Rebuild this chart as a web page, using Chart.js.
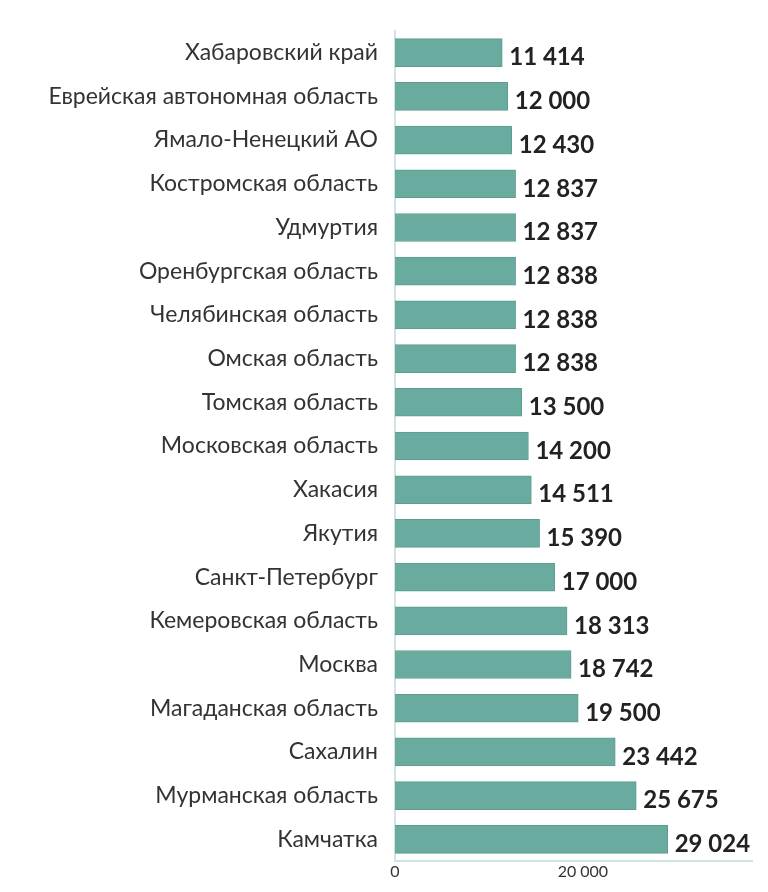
<!DOCTYPE html>
<html><head><meta charset="utf-8">
<script src="https://cdn.jsdelivr.net/npm/chart.js@4"></script>
<style>html,body{margin:0;padding:0;background:#fff}#w{width:768px;height:892px}</style>
</head><body><div id="w"><canvas id="c"></canvas></div>
<script>
const categories=["Хабаровский край","Еврейская автономная область","Ямало-Ненецкий АО","Костромская область","Удмуртия","Оренбургская область","Челябинская область","Омская область","Томская область","Московская область","Хакасия","Якутия","Санкт-Петербург","Кемеровская область","Москва","Магаданская область","Сахалин","Мурманская область","Камчатка"];
const values=[11414,12000,12430,12837,12837,12838,12838,12838,13500,14200,14511,15390,17000,18313,18742,19500,23442,25675,29024];
const tickValues=[0,20000];
const fmt=v=>String(v).replace(/\B(?=(\d{3})+(?!\d))/g,' ');
const valueLabels={id:'vl',afterDatasetsDraw(ch){const ctx=ch.ctx;const m=ch.getDatasetMeta(0);ctx.save();ctx.font='bold 24px Lato';ctx.fillStyle='#222';ctx.textBaseline='middle';m.data.forEach((b,i)=>{ctx.fillText(fmt(values[i]),b.x+7,b.y+5);});ctx.restore();}};
new Chart(document.getElementById('c'),{type:'bar',data:{labels:categories,datasets:[{data:values,backgroundColor:'#69ab9f',borderColor:'#5e9c91',borderWidth:1,barThickness:28}]},
options:{indexAxis:'y',responsive:true,maintainAspectRatio:false,animation:false,
layout:{padding:{top:26,right:16,left:0,bottom:0}},
plugins:{legend:{display:false},tooltip:{enabled:false}},
scales:{x:{min:0,max:38000,afterBuildTicks(s){s.ticks=tickValues.map(v=>({value:v}));},grid:{display:false,drawTicks:false},border:{display:true,color:'#cfe5e0',width:2},ticks:{callback:v=>fmt(v),font:{family:'Lato',size:16},color:'#333',padding:1}},
y:{afterFit(s){s.width=395;},grid:{display:false,drawTicks:false},border:{display:true,color:'#cfe5e0',width:2},ticks:{font:{family:'Lato',size:23},color:'#333',padding:17}}}},
plugins:[valueLabels]});
</script></body></html>
